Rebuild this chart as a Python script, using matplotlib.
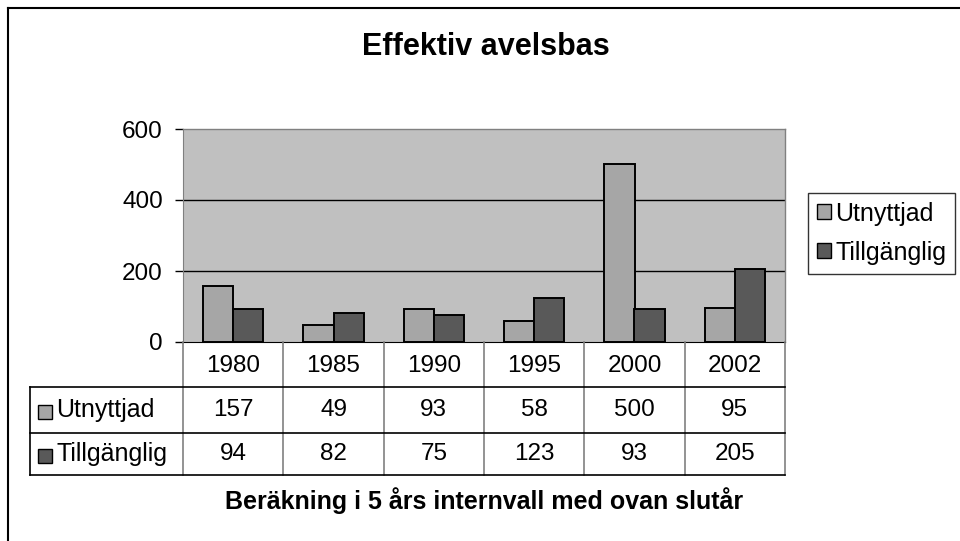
import matplotlib
matplotlib.use("Agg")
import matplotlib.pyplot as plt
from matplotlib.patches import Rectangle
from matplotlib.lines import Line2D
import numpy as np

plt.rcParams['font.family'] = ['Liberation Sans', 'DejaVu Sans']

title = "Effektiv avelsbas"
caption = "Beräkning i 5 års internvall med ovan slutår"
years = ["1980", "1985", "1990", "1995", "2000", "2002"]
series_names = ["Utnyttjad", "Tillgänglig"]
utnyttjad = [157, 49, 93, 58, 500, 95]
tillganglig = [94, 82, 75, 123, 93, 205]
yticks = [0, 200, 400, 600]

colors = ["#A6A6A6", "#595959"]
W, H = 960, 541
fig = plt.figure(figsize=(W / 100, H / 100), dpi=100)
fig.patch.set_facecolor("white")

def box(l, t, r, b):
    return [l / W, 1 - b / H, (r - l) / W, (b - t) / H]

# outer frame
fig.add_artist(Line2D([8 / W, 1], [1 - 8 / H, 1 - 8 / H], color="black", lw=1.5))
fig.add_artist(Line2D([8 / W, 8 / W], [0, 1 - 8 / H], color="black", lw=1.5))

PL, PR, PT, PB = 183, 785, 129, 342
ax = fig.add_axes(box(PL, PT, PR, PB))
ax.set_facecolor("#C0C0C0")
x = np.arange(len(years))
bw = 0.3
ax.bar(x - bw / 2, utnyttjad, bw, color=colors[0], edgecolor="black", lw=1.4, zorder=3, label=series_names[0])
ax.bar(x + bw / 2, tillganglig, bw, color=colors[1], edgecolor="black", lw=1.4, zorder=3, label=series_names[1])
ax.set_xlim(-0.5, len(years) - 0.5)
ax.set_ylim(yticks[0], yticks[-1])
ax.set_yticks(yticks)
ax.set_yticklabels([str(v) for v in yticks], fontsize=17.5)
ax.set_xticks([])
ax.tick_params(axis="y", length=5.5, width=1, color="black", pad=9)
for v in yticks[1:-1]:
    ax.axhline(v, color="black", lw=1, zorder=1)
for s in ["top", "right"]:
    ax.spines[s].set_color("#808080")
    ax.spines[s].set_linewidth(1)
ax.spines["left"].set_color("#808080")
ax.spines["bottom"].set_color("black")

# data table
TL, TB = 30, 475
R1, R2 = 387, 433
unit = (PR - PL) / len(years)
tax = fig.add_axes(box(TL, PB, PR, TB))
tax.set_xlim(-0.5 - (PL - TL) / unit, len(years) - 0.5)
tax.set_ylim(TB, PB)
tax.axis("off")
lab_left = -0.5 - (PL - TL) / unit
for i in range(len(years) + 1):
    tax.plot([i - 0.5, i - 0.5], [PB, TB], color="#808080", lw=1.2, clip_on=False)
tax.plot([lab_left, lab_left], [R1, TB], color="black", lw=1.2, clip_on=False)
for yy in [R1, R2, TB]:
    tax.plot([lab_left, len(years) - 0.5], [yy, yy], color="black", lw=1.2, clip_on=False)
for i, yr in enumerate(years):
    tax.text(i, (PB + R1) / 2 + 1, yr, ha="center", va="center", fontsize=17.5)
rows = [utnyttjad, tillganglig]
rmid = [(R1 + R2) / 2, (R2 + TB) / 2]
for r, vals in enumerate(rows):
    for i, v in enumerate(vals):
        tax.text(i, rmid[r], str(v), ha="center", va="center", fontsize=17.5)
    tax.add_patch(Rectangle((lab_left + 8 / unit, rmid[r] - 7 + 2), 14 / unit, 14,
                            facecolor=colors[r], edgecolor="black", lw=1, clip_on=False))
    tax.text(lab_left + 26 / unit, rmid[r], series_names[r], ha="left", va="center", fontsize=18)

# legend
h = [Rectangle((0, 0), 1, 1, facecolor=colors[i], edgecolor="black", lw=1) for i in range(2)]
leg = fig.legend(h, series_names, loc="upper left", bbox_to_anchor=(808 / W, 1 - 193 / H),
                 fontsize=18, frameon=True, fancybox=False, edgecolor="black",
                 handlelength=0.55, handleheight=0.55, handletextpad=0.2, borderpad=0.35,
                 labelspacing=0.6, borderaxespad=0)
leg.get_frame().set_linewidth(1)

fig.text(486 / W, 1 - 47 / H, title, ha="center", va="center", fontsize=22, fontweight="bold")
fig.text(484 / W, 1 - 501 / H, caption, ha="center", va="center", fontsize=18, fontweight="bold")

fig.savefig("out.png", dpi=100)
